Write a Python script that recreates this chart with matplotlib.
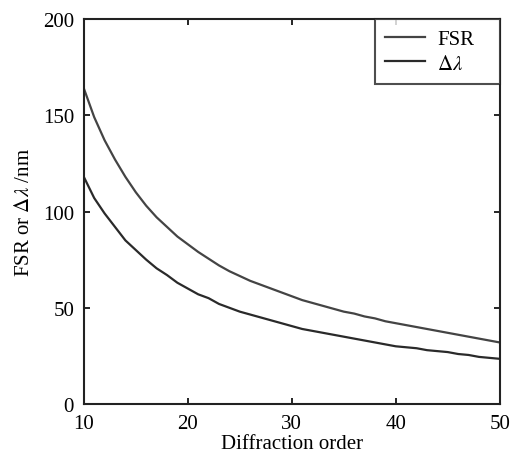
import matplotlib
matplotlib.use("Agg")
import matplotlib.pyplot as plt

order = list(range(10, 51))
fsr = [164, 149, 137, 127, 118, 110, 103, 97, 92, 87, 83, 79, 75.5, 72, 69, 66.5, 64, 62, 60, 58,
       56, 54, 52.5, 51, 49.5, 48, 47, 45.5, 44.5, 43, 42, 41, 40, 39, 38, 37, 36, 35, 34, 33, 32]
dlam = [118, 107, 99, 92, 85, 80, 75, 70.5, 67, 63, 60, 57, 55, 52, 50, 48, 46.5, 45, 43.5, 42,
        40.5, 39, 38, 37, 36, 35, 34, 33, 32, 31, 30, 29.5, 29, 28, 27.5, 27, 26, 25.5, 24.5, 24, 23.5]

plt.rcParams['font.family'] = ['Liberation Serif', 'DejaVu Serif']
plt.rcParams['mathtext.fontset'] = 'stix'

fig = plt.figure(figsize=(5.11, 4.64), dpi=100)
ax = fig.add_axes([0.164, 0.127, 0.814, 0.830])
ax.plot(order, fsr, color='#444444', lw=1.6, label='FSR')
ax.plot(order, dlam, color='#2a2a2a', lw=1.6, label=r'$\Delta\lambda$')
ax.set_xlim(10, 50)
ax.set_ylim(0, 200)
ax.set_xticks([10, 20, 30, 40, 50])
ax.set_yticks([0, 50, 100, 150, 200])
ax.tick_params(direction='in', top=True, right=True, labelsize=15, length=4, width=1.2, pad=7)
for s in ax.spines.values():
    s.set_linewidth(1.5)
    s.set_color('#222222')
ax.set_xlabel('Diffraction order', fontsize=15, labelpad=1)
ax.set_ylabel(r'FSR or $\Delta\lambda$ /nm', fontsize=15, labelpad=6)
leg = ax.legend(loc='upper right', fontsize=15, frameon=True, fancybox=False,
                edgecolor='#222222', borderaxespad=0, handlelength=1.9,
                handletextpad=0.6, borderpad=0.5, labelspacing=0.25,
                bbox_to_anchor=(0.6995, 0.84, 0.3005, 0.16), mode='expand')
leg.get_frame().set_linewidth(1.5)
fig.savefig('out.png', dpi=100)
